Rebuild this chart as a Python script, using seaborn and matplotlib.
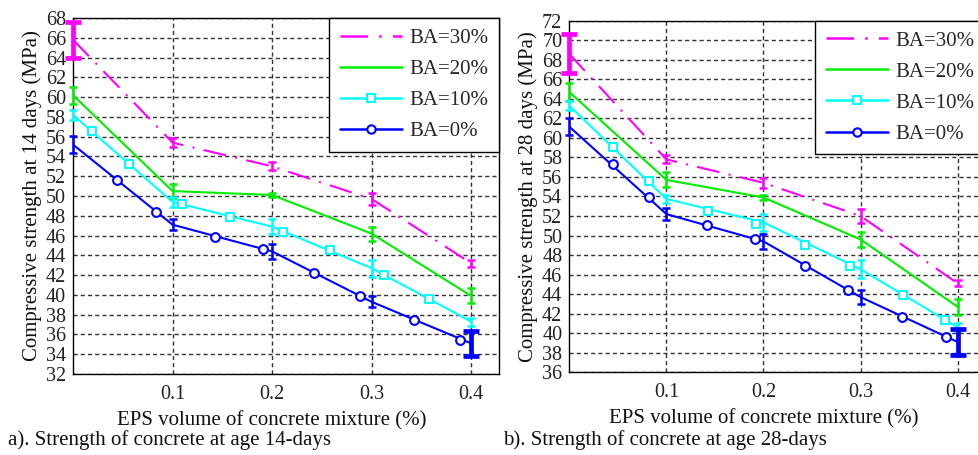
import numpy as np
import pandas as pd
import matplotlib
matplotlib.use("Agg")
import matplotlib.pyplot as plt
from matplotlib.lines import Line2D
import seaborn as sns

# EPS volume fractions where the specimens were tested
eps = [0.0, 0.1, 0.2, 0.3, 0.4]
series = ["BA=30%", "BA=20%", "BA=10%", "BA=0%"]

# Compressive strength at 14 days (MPa), mean and half-range per mixture
s14_ba30 = [65.8, 55.4, 53.0, 49.7, 43.2]
s14_ba20 = [60.2, 50.5, 50.1, 46.2, 39.9]
s14_ba10 = [58.2, 49.4, 46.9, 42.7, 37.3]
s14_ba0 = [55.2, 47.1, 44.4, 39.3, 35.1]
e14_ba30 = [1.8, 0.42, 0.4, 0.6, 0.35]
e14_ba20 = [0.85, 0.7, 0.25, 0.7, 0.75]
e14_ba10 = [0.5, 0.5, 0.75, 0.85, 0.4]
e14_ba0 = [0.85, 0.55, 0.75, 0.55, 1.25]

# Compressive strength at 28 days (MPa)
s28_ba30 = [68.6, 57.8, 55.4, 52.0, 45.1]
s28_ba20 = [64.7, 55.7, 53.9, 49.6, 42.7]
s28_ba10 = [63.3, 53.75, 51.35, 46.55, 40.6]
s28_ba0 = [61.15, 52.2, 49.4, 43.7, 39.1]
e28_ba30 = [2.0, 0.42, 0.48, 0.68, 0.3]
e28_ba20 = [0.9, 0.77, 0.25, 0.75, 0.8]
e28_ba10 = [0.43, 0.43, 0.85, 0.9, 0.4]
e28_ba0 = [0.85, 0.65, 0.8, 0.68, 1.3]

# Marker positions along the BA=10% and BA=0% curves
m14_ba10_x = [0.019, 0.056, 0.109, 0.158, 0.211, 0.258, 0.3126, 0.358]
m14_ba10_y = [56.6, 53.2, 49.2, 47.9, 46.4, 44.5, 42.0, 39.6]
m14_ba0_x = [0.044, 0.083, 0.1427, 0.191, 0.2425, 0.288, 0.343, 0.389]
m14_ba0_y = [51.6, 48.35, 45.9, 44.6, 42.25, 39.9, 37.5, 35.4]
m28_ba10_x = [0.0453, 0.082, 0.143, 0.192, 0.2425, 0.289, 0.3436, 0.3865]
m28_ba10_y = [59.1, 55.6, 52.55, 51.2, 49.0, 46.9, 43.9, 41.4]
m28_ba0_x = [0.0446, 0.082, 0.142, 0.191, 0.2425, 0.287, 0.3426, 0.388]
m28_ba0_y = [57.3, 53.9, 51.1, 49.65, 46.9, 44.4, 41.7, 39.6]

y14_ticks = list(range(32, 69, 2))
y28_ticks = list(range(36, 73, 2))
x_ticks = [0.1, 0.2, 0.3, 0.4]

sns.set_theme(style="white")
plt.rcParams["font.family"] = ["Liberation Serif", "DejaVu Serif"]

colors = {"BA=30%": "#ff00ff", "BA=20%": "#00ee00", "BA=10%": "#00ffff", "BA=0%": "#0000ff"}
dashdot = (0, (11, 4.5, 1, 4.5))
lstyles = {"BA=30%": dashdot, "BA=20%": "-", "BA=10%": "-", "BA=0%": "-"}

fig = plt.figure(figsize=(9.79, 4.55), dpi=100)
ax1 = fig.add_axes([0.0746, 0.178, 0.4351, 0.7824])
ax2 = fig.add_axes([0.5815, 0.1818, 0.4245, 0.7727])


def draw_panel(ax, means, errs, mk10, mk0, yticks, ylabel, caption, cap_x):
    rows = []
    for name, vals in zip(series, means):
        for x, v in zip(eps, vals):
            rows.append({"eps": x, "strength": v, "mix": name})
    df = pd.DataFrame(rows)
    for name in series:
        sub = df[df["mix"] == name]
        sns.lineplot(data=sub, x="eps", y="strength", ax=ax, color=colors[name],
                     linestyle=lstyles[name], linewidth=1.5, legend=False,
                     sort=False, zorder=3)
    # error bars; the widest spread of each panel is drawn heavier
    for name, vals, err in zip(series, means, errs):
        for i, (x, v, e) in enumerate(zip(eps, vals, err)):
            heavy = (name == "BA=30%" and i == 0) or (name == "BA=0%" and i == 4)
            eb = ax.errorbar([x], [v], yerr=[e], fmt="none", ecolor=colors[name],
                             elinewidth=3.4 if heavy else 1.8,
                             capsize=6 if heavy else 3,
                             capthick=3.4 if heavy else 1.8, zorder=4)
            for art in eb.lines[1] + eb.lines[2]:
                art.set_clip_on(False)
    sns.scatterplot(x=mk10[0], y=mk10[1], ax=ax, marker="s", s=36,
                    facecolor="white", edgecolor=colors["BA=10%"], linewidth=1.5,
                    zorder=5, legend=False)
    sns.scatterplot(x=mk0[0], y=mk0[1], ax=ax, marker="o", s=40,
                    facecolor="white", edgecolor=colors["BA=0%"], linewidth=1.5,
                    zorder=5, legend=False)

    ax.set_xlim(0, 0.428)
    ax.set_ylim(yticks[0], yticks[-1])
    ax.set_xticks(x_ticks)
    ax.set_xticklabels([f"{t:.1f}" for t in x_ticks])
    ax.set_yticks(yticks)
    ax.set_yticklabels([str(t) for t in yticks])
    ax.tick_params(axis="both", length=0, labelsize=14.5, colors="#222222")
    ax.tick_params(axis="x", pad=8)
    ax.tick_params(axis="y", pad=5)
    ax.grid(True, color="#333333", linestyle=(0, (3, 2.2)), linewidth=1.0, zorder=0)
    ax.set_axisbelow(True)
    for sp in ax.spines.values():
        sp.set_color("black")
        sp.set_linewidth(1.0)
        sp.set_visible(True)
    ax.set_ylabel(ylabel, fontsize=15, labelpad=3, color="#111111")
    ax.set_xlabel("EPS volume of concrete mixture (%)", fontsize=15, color="#111111")
    ax.xaxis.set_label_coords(0.4 / 0.428 / 2, -0.105)
    fig.text(cap_x, 0.032, caption, fontsize=15, color="#111111", ha="left", va="center")

    handles = []
    for name in series:
        if name == "BA=10%":
            h = Line2D([], [], color=colors[name], lw=1.8, marker="s", markersize=6,
                       markerfacecolor="white", markeredgewidth=1.5)
        elif name == "BA=0%":
            h = Line2D([], [], color=colors[name], lw=1.8, marker="o", markersize=6,
                       markerfacecolor="white", markeredgewidth=1.5)
        else:
            h = Line2D([], [], color=colors[name], lw=1.8, linestyle=lstyles[name])
        handles.append(h)
    leg = ax.legend(handles, series, loc="upper right", borderaxespad=0.0,
                    fontsize=15, handlelength=3.0, handletextpad=0.35,
                    labelspacing=0.55, borderpad=0.5, fancybox=False,
                    framealpha=1.0, edgecolor="black")
    leg.get_frame().set_linewidth(1.0)
    leg.set_zorder(10)


draw_panel(ax1, [s14_ba30, s14_ba20, s14_ba10, s14_ba0],
           [e14_ba30, e14_ba20, e14_ba10, e14_ba0],
           (m14_ba10_x, m14_ba10_y), (m14_ba0_x, m14_ba0_y),
           y14_ticks, "Compressive strength at 14 days (MPa)",
           "a). Strength of concrete at age 14-days", 0.008)
draw_panel(ax2, [s28_ba30, s28_ba20, s28_ba10, s28_ba0],
           [e28_ba30, e28_ba20, e28_ba10, e28_ba0],
           (m28_ba10_x, m28_ba10_y), (m28_ba0_x, m28_ba0_y),
           y28_ticks, "Compressive strength at 28 days (MPa)",
           "b). Strength of concrete at age 28-days", 0.514)

fig.savefig("out.png", dpi=100)
